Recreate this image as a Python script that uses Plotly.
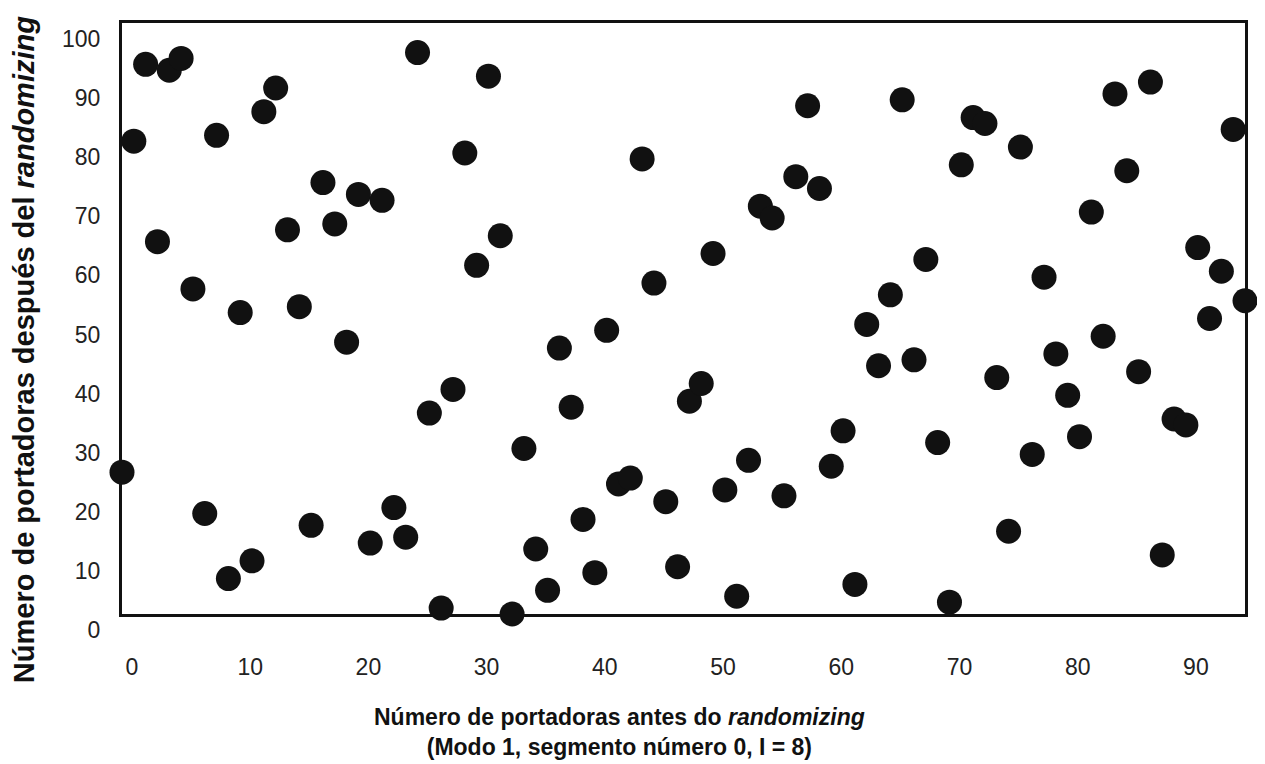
import plotly.graph_objects as go

# carrier index before randomizing (0..95) and the carrier index it lands on
carrier_before = list(range(96))
carrier_after = [
    24, 80, 93, 63, 92, 94, 55, 17, 81, 6, 51, 9, 85, 89, 65, 52,
    15, 73, 66, 46, 71, 12, 70, 18, 13, 95, 34, 1, 38, 78, 59, 91,
    64, 0, 28, 11, 4, 45, 35, 16, 7, 48, 22, 23, 77, 56, 19, 8,
    36, 39, 61, 21, 3, 26, 69, 67, 20, 74, 86, 72, 25, 31, 5, 49,
    42, 54, 87, 43, 60, 29, 2, 76, 84, 83, 40, 14, 79, 27, 57, 44,
    37, 30, 68, 47, 88, 75, 41, 90, 10, 33, 32, 62, 50, 58, 82, 53,
]

x_ticks = [0, 10, 20, 30, 40, 50, 60, 70, 80, 90]
y_ticks = [0, 10, 20, 30, 40, 50, 60, 70, 80, 90, 100]

FONT = "Liberation Sans, Arial, sans-serif"

fig = go.Figure(
    go.Scatter(
        x=carrier_before,
        y=carrier_after,
        mode="markers",
        marker=dict(size=25, color="#111111", line=dict(width=0)),
        cliponaxis=False,
        hovertemplate="antes: %{x}<br>después: %{y}<extra></extra>",
    )
)

axis_common = dict(
    showgrid=False,
    zeroline=False,
    showline=True,
    mirror=True,
    linecolor="#111111",
    linewidth=3,
    ticks="",
    automargin=False,
    tickfont=dict(family=FONT, size=23, color="#222222"),
)

fig.update_xaxes(
    range=[0, 95],
    tickvals=x_ticks,
    ticklabelstandoff=30,
    ticklabelshift=10,
    **axis_common,
)
fig.update_yaxes(
    range=[0, 100],
    tickvals=y_ticks,
    ticklabelstandoff=14,
    ticklabelshift=16,
    **axis_common,
)

fig.add_annotation(
    text="<b>Número de portadoras antes do <i>randomizing</i></b><br>"
    "<b>(Modo 1, segmento número 0, I = 8)</b>",
    xref="paper", yref="paper",
    x=0.4426, y=-0.1997,
    xanchor="center", yanchor="middle",
    showarrow=False,
    font=dict(family=FONT, size=23, color="#111111"),
)
fig.add_annotation(
    text="<b>Número de portadoras después del <i>randomizing</i></b>",
    xref="paper", yref="paper",
    x=-0.0873, y=0.448,
    xanchor="center", yanchor="middle",
    textangle=-90,
    showarrow=False,
    font=dict(family=FONT, size=29, color="#111111"),
)

# page body adds an 8px offset, so the figure is 8px smaller than the window
fig.update_layout(
    width=1257,
    height=756,
    template="plotly_white",
    plot_bgcolor="white",
    paper_bgcolor="white",
    showlegend=False,
    margin=dict(l=114, r=20, t=15, b=150),
)

fig.write_html("out.html")
